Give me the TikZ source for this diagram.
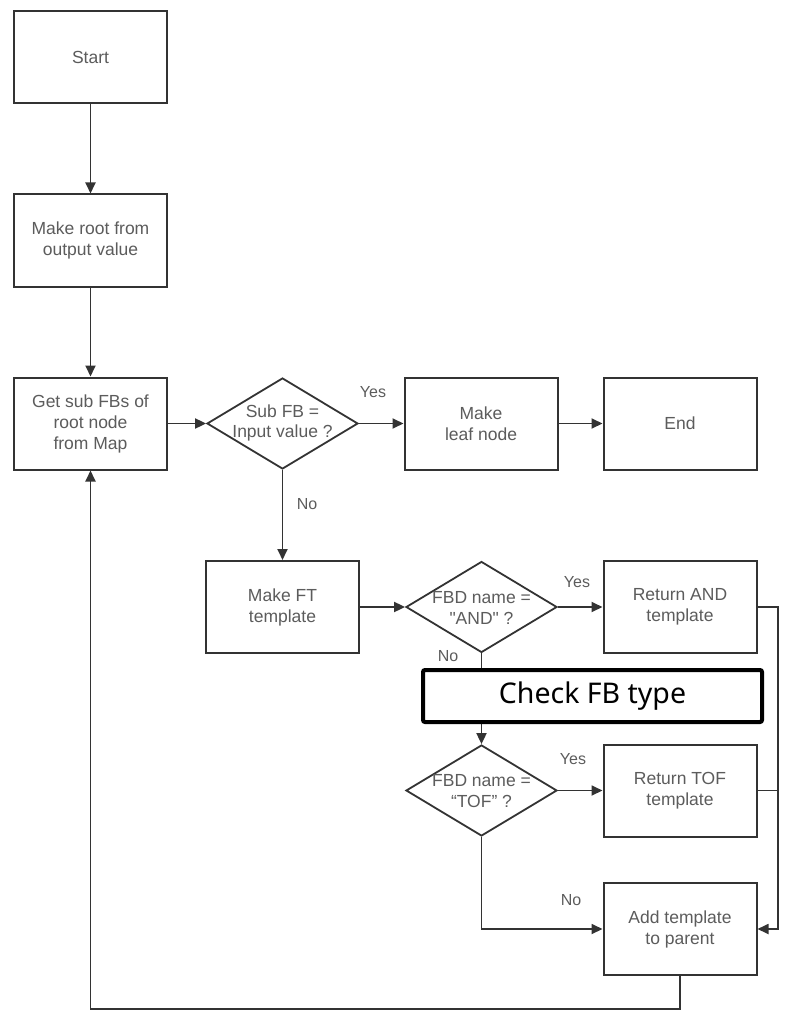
\documentclass[tikz,border=0pt]{standalone}
\usepackage{fontspec}
\setmainfont{Liberation Sans}
\newfontfamily\headfont{Noto Sans}
\usetikzlibrary{shapes.geometric,arrows.meta}
\definecolor{ink}{HTML}{333333}
\definecolor{txt}{HTML}{5C5C5C}

\begin{document}
\begin{tikzpicture}[x=1pt,y=-1pt,
  every node/.style={inner sep=0pt},
  proc/.style={draw=ink, line width=2pt, fill=white, minimum width=153pt,
    minimum height=92pt, align=center, text=txt,
    font=\fontsize{17.5}{21}\selectfont},
  decide/.style={draw=ink, line width=1.8pt, fill=white, shape=diamond,
    minimum width=151pt, minimum height=91pt},
  dtext/.style={align=center, text=txt, font=\fontsize{17.5}{20.5}\selectfont},
  lbl/.style={text=txt, font=\fontsize{16}{18}\selectfont},
  flow/.style={draw=ink, line width=1.8pt, -{Triangle[length=11pt,width=10pt]}},
  link/.style={draw=ink, line width=1.8pt},
  checkbox/.style={draw=black, line width=4pt, fill=white, rounded corners=2pt,
    minimum width=339pt, minimum height=52pt, font=\headfont\fontsize{28.5}{32}\selectfont},
]
\path[use as bounding box] (0,0) rectangle (789,1016);

% main column
\node[proc] (start) at (90.5,57) {Start};
\node[proc] (root) at (90.5,240.5) {Make root from\\output value};
\node[proc] (subs) at (90.5,423.5) {Get sub FBs of\\root node\\from Map};

% first decision and its branches
\node[decide] (isin) at (282.5,423.5) {};
\node[dtext] (isinq) at (282.5,423) {Sub FB =\\Input value ?};
\node[proc] (leaf) at (481,423.5) {Make\\leaf node};
\node[proc] (end) at (680,423.5) {End};

% template construction
\node[proc] (ft) at (282.5,607) {Make FT\\template};
\node[decide] (isand) at (481.5,607) {};
\node[dtext] (isandq) at (481.5,608) {FBD name =\\\textquotedbl AND\textquotedbl\ ?};
\node[proc] (retand) at (680,607) {Return AND\\template};
\node[decide] (istof) at (481.5,790.5) {};
\node[dtext] (istofq) at (481.5,791) {FBD name =\\“TOF” ?};
\node[proc] (rettof) at (680,790.5) {Return TOF\\template};
\node[proc] (add) at (680,929) {Add template\\to parent};

% branch labels
\node[lbl] (yes1) at (373,392) {Yes};
\node[lbl] (no1) at (307,504) {No};
\node[lbl] (yes2) at (577,582) {Yes};
\node[lbl] (no2) at (448,656) {No};
\node[lbl] (yes3) at (573,759) {Yes};
\node[lbl] (no3) at (571,900) {No};

% connectors
\draw[flow] (start) -- (root);
\draw[flow] (root) -- (subs);
\draw[flow] (subs) -- (isin);
\draw[flow] (isin) -- (leaf);
\draw[flow] (leaf) -- (end);
\draw[flow] (isin.south) -- (ft.north);
\draw[flow] (ft) -- (isand.west);
\draw[flow] (isand.east) -- (retand);
\draw[flow] (isand.south) -- (istof.north);
\draw[flow] (istof.east) -- (rettof);
\draw[flow] (istof.south) |- (add.west);
\coordinate (bus) at (778,607);
\draw[flow] (retand.east) -- (bus) |- (add.east);
\draw[link] (rettof.east) -- (rettof.east -| bus);
\coordinate (back) at (90.5,1009);
\draw[flow] (add.south) |- (back) -- (subs.south);

% caption box over the type checks
\node[checkbox] (check) at (592.5,696) {Check FB type};
\end{tikzpicture}
\end{document}
